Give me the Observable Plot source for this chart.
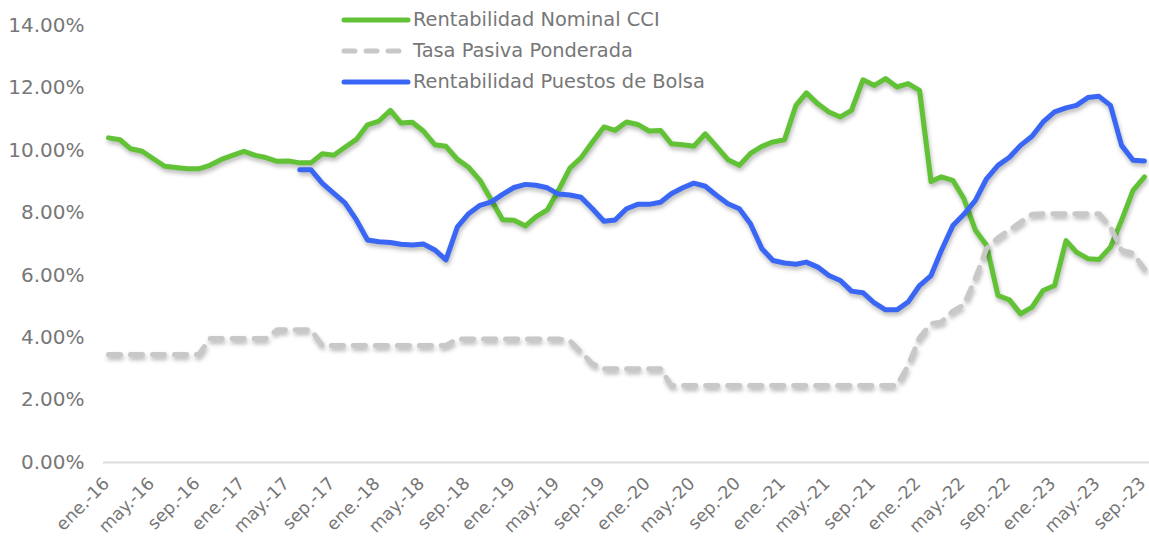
<!DOCTYPE html>
<html><head><meta charset="utf-8">
<script src="https://cdn.jsdelivr.net/npm/d3@7"></script>
<script src="https://cdn.jsdelivr.net/npm/@observablehq/plot@0.6"></script>
<style>
body{margin:0;background:#fff;font-family:"DejaVu Sans",sans-serif;}
#wrap{position:relative;width:1149px;height:544px;overflow:hidden;}
#legend{position:absolute;left:340px;top:4px;color:#777;font-size:19.4px;}
#legend .item{display:flex;align-items:center;height:31px;white-space:nowrap;}
#legend svg{display:block;margin-right:1px;}
#chart g[aria-label="line"]{filter:drop-shadow(1px 3px 2px rgba(0,0,0,0.28));}
#chart g[aria-label="y-axis tick label"] text{font-size:20px;}
</style>
</head><body>
<div id="wrap"><div id="chart"></div><div id="legend"></div></div>
<script>
// Monthly series, ene-2016 .. sep-2023 (93 months), values in %
const seriesNames = ["Rentabilidad Nominal CCI", "Tasa Pasiva Ponderada", "Rentabilidad Puestos de Bolsa"];
const cci = [10.40,10.34,10.05,9.97,9.73,9.49,9.45,9.41,9.41,9.52,9.71,9.84,9.97,9.84,9.77,9.65,9.66,9.60,9.60,9.89,
  9.84,10.10,10.35,10.82,10.94,11.28,10.88,10.90,10.62,10.18,10.13,9.71,9.45,9.04,8.40,7.78,7.76,7.58,7.87,8.09,
  8.72,9.43,9.76,10.27,10.75,10.64,10.91,10.83,10.62,10.64,10.21,10.18,10.13,10.53,10.13,9.70,9.52,9.90,10.13,10.27,
  10.34,11.44,11.84,11.49,11.23,11.07,11.28,12.26,12.08,12.30,12.03,12.14,11.92,9.00,9.15,9.04,8.45,7.44,6.96,5.35,
  5.21,4.76,4.98,5.51,5.67,7.11,6.74,6.53,6.50,6.90,7.76,8.72,9.15];
const tasa = [3.46,3.46,3.46,3.46,3.46,3.46,3.46,3.46,3.46,3.97,3.97,3.97,3.97,3.97,3.97,4.25,4.25,4.25,4.25,3.75,
  3.75,3.75,3.75,3.75,3.75,3.75,3.75,3.75,3.75,3.75,3.75,3.96,3.96,3.96,3.96,3.96,3.96,3.96,3.96,3.96,
  3.96,3.90,3.54,3.16,3.00,3.00,3.00,3.00,3.00,3.00,2.47,2.47,2.47,2.47,2.47,2.47,2.47,2.47,2.47,2.47,
  2.47,2.47,2.47,2.47,2.47,2.47,2.47,2.47,2.47,2.47,2.47,3.10,4.00,4.45,4.50,4.85,5.05,5.90,6.85,7.20,
  7.45,7.70,7.95,7.97,7.97,7.97,7.97,7.97,7.97,7.55,6.80,6.70,6.20];
const bolsa = [null,null,null,null,null,null,null,null,null,null,null,null,null,null,null,null,null,9.38,9.38,8.94,
  8.62,8.32,7.77,7.13,7.07,7.05,6.99,6.97,7.00,6.81,6.49,7.55,7.98,8.24,8.35,8.59,8.81,8.91,8.88,8.80,
  8.60,8.57,8.50,8.13,7.73,7.77,8.13,8.27,8.27,8.34,8.61,8.80,8.95,8.85,8.56,8.29,8.13,7.65,6.85,6.47,
  6.39,6.35,6.42,6.26,5.99,5.83,5.49,5.44,5.11,4.89,4.89,5.14,5.67,5.99,6.79,7.59,7.95,8.40,9.09,9.52,
  9.78,10.16,10.45,10.91,11.23,11.36,11.44,11.69,11.73,11.44,10.16,9.68,9.66];
const xTickLabels = ["ene.-16","may.-16","sep.-16","ene.-17","may.-17","sep.-17","ene.-18","may.-18","sep.-18",
  "ene.-19","may.-19","sep.-19","ene.-20","may.-20","sep.-20","ene.-21","may.-21","sep.-21","ene.-22","may.-22",
  "sep.-22","ene.-23","may.-23","sep.-23"];
const yTicks = [0,2,4,6,8,10,12,14];
const colors = ["#62c236","#c8c8c8","#3a66f5"];

const months = d3.utcMonth.range(new Date(Date.UTC(2016,0,1)), new Date(Date.UTC(2023,9,1)));
const rows = months.map((date,i)=>({date, cci:cci[i], tasa:tasa[i], bolsa:bolsa[i]}));
const xTicks = months.filter((d,i)=>i%4===0);

const chart = Plot.plot({
  width:1149, height:544,
  marginTop:25, marginBottom:82, marginLeft:103, marginRight:0,
  style:{fontFamily:"DejaVu Sans", color:"#777", background:"transparent", overflow:"visible"},
  x:{type:"utc", domain:[months[0], months[months.length-1]], insetLeft:5, insetRight:5, axis:null},
  y:{domain:[0,14], ticks:yTicks, tickFormat:d=>d.toFixed(2)+"%", tickSize:0, tickPadding:19, label:null},
  marks:[
    Plot.ruleY([0],{stroke:"#dcdcdc", strokeWidth:2}),
    Plot.text(xTicks,{x:d=>d, frameAnchor:"bottom", text:(d,i)=>xTickLabels[i], rotate:-45, textAnchor:"end",
      dx:2, dy:22, fontSize:17.5, fill:"#777"}),
    Plot.lineY(rows,{x:"date", y:"cci", stroke:colors[0], strokeWidth:5, strokeLinejoin:"round", strokeLinecap:"round"}),
    Plot.lineY(rows,{x:"date", y:"tasa", stroke:colors[1], strokeWidth:5, strokeDasharray:"12,10", strokeLinecap:"round", strokeLinejoin:"round"}),
    Plot.lineY(rows,{x:"date", y:"bolsa", stroke:colors[2], strokeWidth:5, strokeLinejoin:"round", strokeLinecap:"round"})
  ]
});
document.getElementById("chart").appendChild(chart);

const legend = document.getElementById("legend");
seriesNames.forEach((name,i)=>{
  const item = document.createElement("div");
  item.className = "item";
  const dash = i===1 ? ' stroke-dasharray="11,11"' : '';
  item.innerHTML = `<svg width="72" height="10"><line x1="4" y1="5" x2="68" y2="5" stroke="${colors[i]}" stroke-width="5" stroke-linecap="round"${dash}/></svg><span>${name}</span>`;
  legend.appendChild(item);
});
</script>
</body></html>
